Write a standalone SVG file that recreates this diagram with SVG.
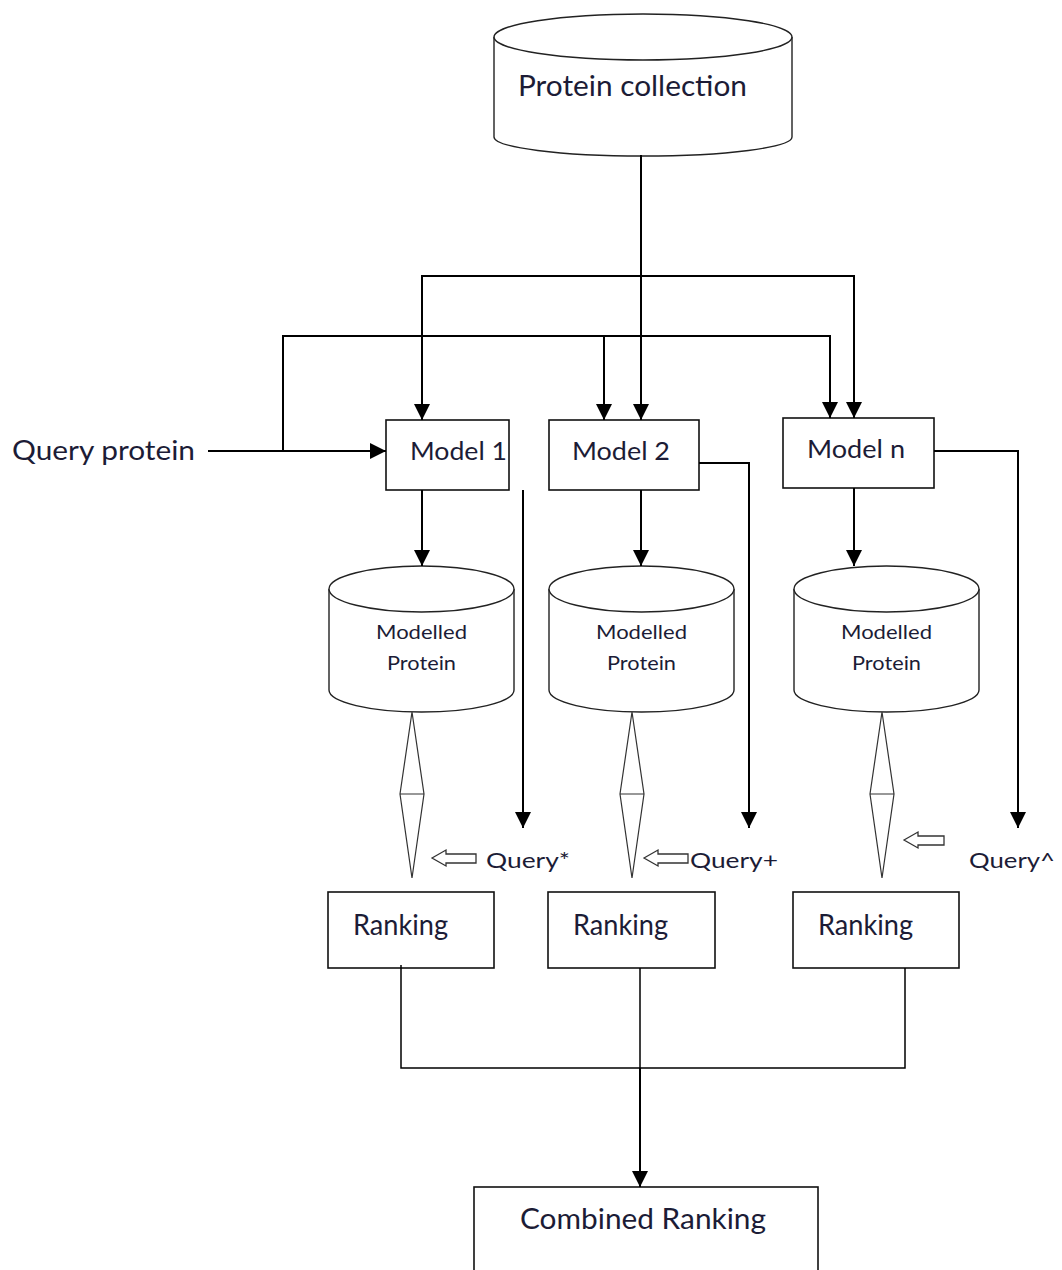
<svg xmlns="http://www.w3.org/2000/svg" width="1062" height="1270" viewBox="0 0 1062 1270">
<style>
.box{fill:#fff;stroke:#111;stroke-width:1.6}
.cyl{fill:#fff;stroke:#222;stroke-width:1.4}
.t{font-family:Lato,"Liberation Sans",sans-serif;fill:#1c1c36}
.ln{fill:none;stroke:#000;stroke-width:2}
.thin{fill:none;stroke:#000;stroke-width:1.5}
.dia{fill:none;stroke:#333;stroke-width:1.2}
.hol{fill:#fff;stroke:#333;stroke-width:1.3}
</style>
<defs>
<marker id="ah" markerUnits="userSpaceOnUse" markerWidth="16" markerHeight="18" refX="16" refY="8" orient="auto">
<path d="M0,0 L16,8 L0,16 Z" fill="#000"/>
</marker>
</defs>
<g id="protein-collection">
<path class="cyl" d="M494,37 A149,23 0 0 1 792,37 L792,137 A149,19 0 0 1 494,137 Z"/>
<path class="cyl" d="M494,37 A149,23 0 0 0 792,37"/>
<text class="t" x="518" y="96" font-size="28" textLength="229" lengthAdjust="spacingAndGlyphs">Protein collection</text>
</g>
<g id="query-protein"><text class="t" x="12" y="460" font-size="26" textLength="183" lengthAdjust="spacingAndGlyphs">Query protein</text></g>
<g id="model1"><rect class="box" x="386" y="420" width="123" height="70"/><text class="t" x="410" y="460" font-size="25" textLength="97" lengthAdjust="spacingAndGlyphs">Model 1</text></g>
<g id="model2"><rect class="box" x="549" y="420" width="150" height="70"/><text class="t" x="572" y="460" font-size="25" textLength="98" lengthAdjust="spacingAndGlyphs">Model 2</text></g>
<g id="modeln"><rect class="box" x="783" y="418" width="151" height="70"/><text class="t" x="807" y="458" font-size="25" textLength="98" lengthAdjust="spacingAndGlyphs">Model n</text></g>
<g id="modelled1">
<path class="cyl" d="M329,589 A92.5,23 0 0 1 514,589 L514,690 A92.5,22 0 0 1 329,690 Z"/>
<path class="cyl" d="M329,589 A92.5,23 0 0 0 514,589"/>
<text class="t" x="376" y="639" font-size="19" textLength="91" lengthAdjust="spacingAndGlyphs">Modelled</text>
<text class="t" x="387" y="670" font-size="19" textLength="69" lengthAdjust="spacingAndGlyphs">Protein</text>
</g>
<g id="modelled2">
<path class="cyl" d="M549,589 A92.5,23 0 0 1 734,589 L734,690 A92.5,22 0 0 1 549,690 Z"/>
<path class="cyl" d="M549,589 A92.5,23 0 0 0 734,589"/>
<text class="t" x="596" y="639" font-size="19" textLength="91" lengthAdjust="spacingAndGlyphs">Modelled</text>
<text class="t" x="607" y="670" font-size="19" textLength="69" lengthAdjust="spacingAndGlyphs">Protein</text>
</g>
<g id="modelledn">
<path class="cyl" d="M794,589 A92.5,23 0 0 1 979,589 L979,690 A92.5,22 0 0 1 794,690 Z"/>
<path class="cyl" d="M794,589 A92.5,23 0 0 0 979,589"/>
<text class="t" x="841" y="639" font-size="19" textLength="91" lengthAdjust="spacingAndGlyphs">Modelled</text>
<text class="t" x="852" y="670" font-size="19" textLength="69" lengthAdjust="spacingAndGlyphs">Protein</text>
</g>
<g id="ranking1"><rect class="box" x="328" y="892" width="166" height="76"/><text class="t" x="353" y="935" font-size="28" textLength="95" lengthAdjust="spacingAndGlyphs">Ranking</text></g>
<g id="ranking2"><rect class="box" x="548" y="892" width="167" height="76"/><text class="t" x="573" y="935" font-size="28" textLength="95" lengthAdjust="spacingAndGlyphs">Ranking</text></g>
<g id="rankingn"><rect class="box" x="793" y="892" width="166" height="76"/><text class="t" x="818" y="935" font-size="28" textLength="95" lengthAdjust="spacingAndGlyphs">Ranking</text></g>
<g id="combined"><rect class="box" x="474" y="1187" width="344" height="100"/><text class="t" x="520" y="1229" font-size="28" textLength="246" lengthAdjust="spacingAndGlyphs">Combined Ranking</text></g>
<g id="query-labels">
<text class="t" x="486" y="868" font-size="22" textLength="84" lengthAdjust="spacingAndGlyphs">Query*</text>
<text class="t" x="690" y="868" font-size="22" textLength="88" lengthAdjust="spacingAndGlyphs">Query+</text>
<text class="t" x="969" y="868" font-size="22" textLength="86" lengthAdjust="spacingAndGlyphs">Query^</text>
</g>
<g id="diamonds">
<path class="dia" d="M412,712 L400,794 L412,878 L424,794 Z M400,794 L424,794"/>
<path class="dia" d="M632,712 L620,794 L632,878 L644,794 Z M620,794 L644,794"/>
<path class="dia" d="M882,712 L870,794 L882,878 L894,794 Z M870,794 L894,794"/>
</g>
<g id="hollow-arrows">
<path class="hol" d="M432,858 L446,850 L446,854 L476,854 L476,863 L446,863 L446,866 Z"/>
<path class="hol" d="M644,858 L658,850 L658,854 L688,854 L688,863 L658,863 L658,866 Z"/>
<path class="hol" d="M904,840 L918,832 L918,836 L944,836 L944,845 L918,845 L918,848 Z"/>
</g>
<g id="connectors">
<path class="ln" d="M641,155 L641,420" marker-end="url(#ah)"/>
<path class="ln" d="M422,420 L422,276 L854,276 L854,418" marker-end="url(#ah)"/>
<path class="ln" d="M422,300 L422,420" marker-end="url(#ah)"/>
<path class="ln" d="M283,451 L283,336 L830,336 L830,418" marker-end="url(#ah)"/>
<path class="ln" d="M604,336 L604,420" marker-end="url(#ah)"/>
<path class="ln" d="M208,451 L386,451" marker-end="url(#ah)"/>
<path class="ln" d="M422,490 L422,566" marker-end="url(#ah)"/>
<path class="ln" d="M641,490 L641,566" marker-end="url(#ah)"/>
<path class="ln" d="M854,488 L854,566" marker-end="url(#ah)"/>
<path class="ln" d="M523,490 L523,828" marker-end="url(#ah)"/>
<path class="ln" d="M699,463 L749,463 L749,828" marker-end="url(#ah)"/>
<path class="ln" d="M934,451 L1018,451 L1018,828" marker-end="url(#ah)"/>
<path class="thin" d="M401,965 L401,1068 L905,1068 L905,968 M640,968 L640,1068"/>
<path class="ln" d="M640,1068 L640,1187" marker-end="url(#ah)"/>
</g>
</svg>
